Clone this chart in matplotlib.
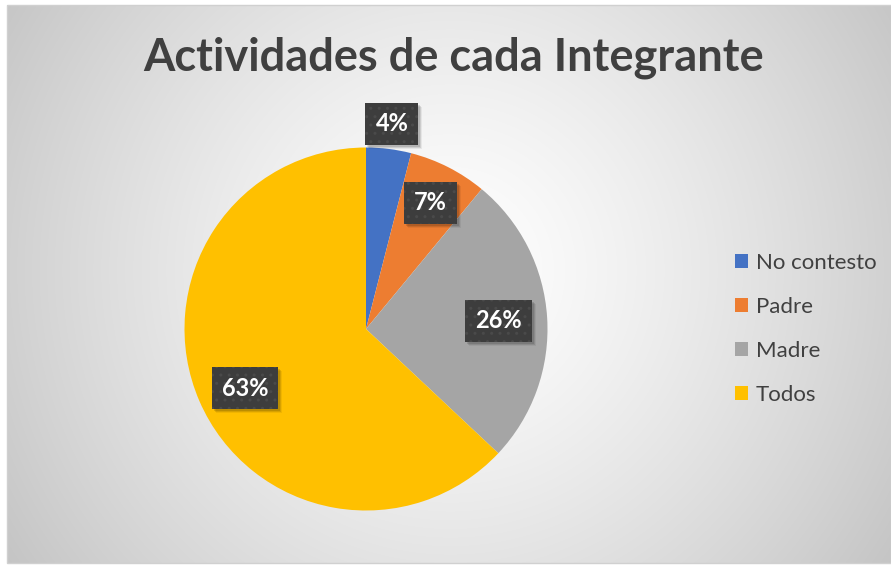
import numpy as np
import matplotlib.pyplot as plt
from matplotlib.patches import Rectangle

# data
categories = ['No contesto', 'Padre', 'Madre', 'Todos']
values = [4, 7, 26, 63]
colors = ['#4472C4', '#ED7D31', '#A5A5A5', '#FFC000']

# label placement (radius as fraction of pie radius, angle nudge in degrees)
label_radius = [1.14, 0.78, 0.73, 0.742]
label_nudge = [0, 0, 0, 2.6]

W, H = 891, 565
fig = plt.figure(figsize=(W / 100, H / 100), dpi=100)
fig.patch.set_facecolor('white')

# background with radial gradient (chart area box)
bg = fig.add_axes([0, 0, 1, 1])
bg.axis('off')
x0, y0, x1, y1 = 7, 5, 891, 563
yy, xx = np.mgrid[y0:y1, x0:x1]
cx, cy = 450, 270
d = np.hypot(xx - cx, yy - cy) / np.hypot(x0 - cx, y1 - cy)
shade = 1.0 - 0.23 * np.clip(d, 0, 1.1) ** 1.3
img = np.dstack([shade, shade, shade])
bg.imshow(img, extent=[x0, x1, y1, y0], interpolation='bilinear', aspect='auto')
bg.add_patch(Rectangle((x0, y0), x1 - x0, y1 - y0, fill=False, edgecolor='#d0d0d0', lw=1))
bg.set_xlim(0, W)
bg.set_ylim(H, 0)

# title
fig.text(454 / W, 1 - 58 / H, 'Actividades de cada Integrante', ha='center', va='center',
         fontsize=32.5, fontweight='bold', color='#404040', family='Lato')

# pie axes: center (366, 329), radius ~181.5 px
R = 181.5
half = 200
ax = fig.add_axes([(366 - half) / W, (H - 329 - half) / H, 2 * half / W, 2 * half / H])
lim = half / R
wedges, _ = ax.pie(values, colors=colors, startangle=90, counterclock=False, radius=1,
                   wedgeprops=dict(linewidth=0), frame=False)
ax.set_xlim(-lim, lim)
ax.set_ylim(-lim, lim)
ax.axis('off')

total = sum(values)
texts = []
for w, v, r, nd in zip(wedges, values, label_radius, label_nudge):
    ang = np.deg2rad((w.theta1 + w.theta2) / 2 + nd)
    x, y = r * np.cos(ang), r * np.sin(ang)
    t = ax.text(x, y, f'{round(100 * v / total)}%', ha='center', va='center',
                fontsize=17, fontweight='bold', color='white', family='Lato', zorder=5)
    texts.append((t, x, y))

# dark dotted boxes behind labels, sized from the rendered text
fig.canvas.draw()
rend = fig.canvas.get_renderer()
for t, x, y in texts:
    bb = t.get_window_extent(rend)
    bw = (bb.width + 20) / R
    bh = 42 / R
    # soft shadow
    for k, a in [(4, 0.06), (3, 0.1), (2, 0.12)]:
        ax.add_patch(Rectangle((x - bw / 2 + k / R, y - bh / 2 - k / R), bw, bh,
                               facecolor='black', alpha=a, linewidth=0, zorder=3, clip_on=False))
    ax.add_patch(Rectangle((x - bw / 2, y - bh / 2), bw, bh, facecolor='#3d3d3d',
                           edgecolor='#4a4a4a', hatch='..', linewidth=0, zorder=4, clip_on=False))

# legend
handles = [Rectangle((0, 0), 1, 1, facecolor=c, edgecolor='none') for c in colors]
fig.legend(handles, categories, loc='center left', bbox_to_anchor=(715 / W, 1 - 329 / H),
           frameon=False, labelcolor='#404040', handlelength=0.6, handleheight=0.6,
           handletextpad=0.35, labelspacing=1.08, prop={'family': 'Lato', 'size': 16})

fig.savefig('out.png', dpi=100)
